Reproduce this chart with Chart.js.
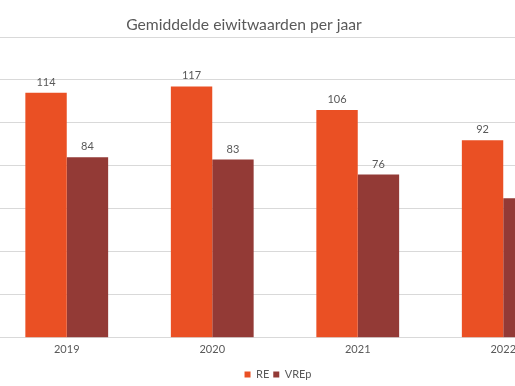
<!DOCTYPE html>
<html>
<head>
<meta charset="utf-8">
<script src="https://cdn.jsdelivr.net/npm/chart.js@4/dist/chart.umd.min.js"></script>
<style>
  html, body { margin: 0; padding: 0; background: #fff; overflow: hidden; width: 515px; height: 386px; }
  #wrap { position: absolute; left: -6px; top: 0; width: 582px; height: 390px; }
</style>
</head>
<body>
<div id="wrap"><canvas id="c"></canvas></div>
<script>
const titleText = 'Gemiddelde eiwitwaarden per jaar';
const categories = ['2019', '2020', '2021', '2022'];
const seriesNames = ['RE', 'VREp'];
const reValues = [114, 117, 106, 92];
const vrepValues = [84, 83, 76, 65];
const yTicks = [0, 20, 40, 60, 80, 100, 120, 140];

const FONT = 'Lato, "Open Sans", sans-serif';
const GREY = '#595959';

const titlePlugin = {
  id: 'titleAt',
  afterLayout(chart) {
    if (chart.legend) { chart.legend.left -= 7; chart.legend.right -= 7; }
  },
  afterDraw(chart) {
    const ctx = chart.ctx;
    ctx.save();
    ctx.font = '15.7px ' + FONT;
    ctx.fillStyle = GREY;
    ctx.textAlign = 'center';
    ctx.textBaseline = 'middle';
    ctx.fillText(titleText, 244 + 6, 25);
    ctx.restore();
  }
};

const labelPlugin = {
  id: 'valueLabels',
  afterDatasetsDraw(chart) {
    const ctx = chart.ctx;
    ctx.save();
    ctx.font = '11px ' + FONT;
    ctx.fillStyle = GREY;
    ctx.textAlign = 'center';
    ctx.textBaseline = 'bottom';
    chart.data.datasets.forEach((ds, i) => {
      chart.getDatasetMeta(i).data.forEach((bar, j) => {
        ctx.fillText(String(ds.data[j]), bar.x, bar.y - 5);
      });
    });
    ctx.restore();
  }
};

new Chart(document.getElementById('c'), {
  type: 'bar',
  data: {
    labels: categories,
    datasets: [
      { label: seriesNames[0], data: reValues, backgroundColor: '#EA5024' },
      { label: seriesNames[1], data: vrepValues, backgroundColor: '#933A36' }
    ]
  },
  options: {
    responsive: true,
    maintainAspectRatio: false,
    animation: false,
    layout: { padding: { top: 37, left: 0, right: 0, bottom: 0 } },
    datasets: { bar: { barPercentage: 1.0, categoryPercentage: 0.569 } },
    plugins: {
      title: { display: false },
      tooltip: { enabled: false },
      legend: {
        position: 'bottom',
        labels: {
          boxWidth: 6, boxHeight: 6, padding: 4,
          color: GREY,
          font: { family: FONT, size: 11 }
        }
      }
    },
    scales: {
      x: {
        grid: { display: false, drawTicks: false },
        border: { display: false },
        ticks: { color: GREY, font: { family: FONT, size: 11 }, padding: 5 },
        afterFit(axis) { axis.height += 4; }
      },
      y: {
        min: 0, max: 140,
        afterBuildTicks(axis) { axis.ticks = yTicks.map(v => ({ value: v })); },
        ticks: { display: false },
        grid: { color: '#D9D9D9', lineWidth: 1, drawTicks: false },
        border: { display: false }
      }
    }
  },
  plugins: [titlePlugin, labelPlugin]
});
</script>
</body>
</html>
